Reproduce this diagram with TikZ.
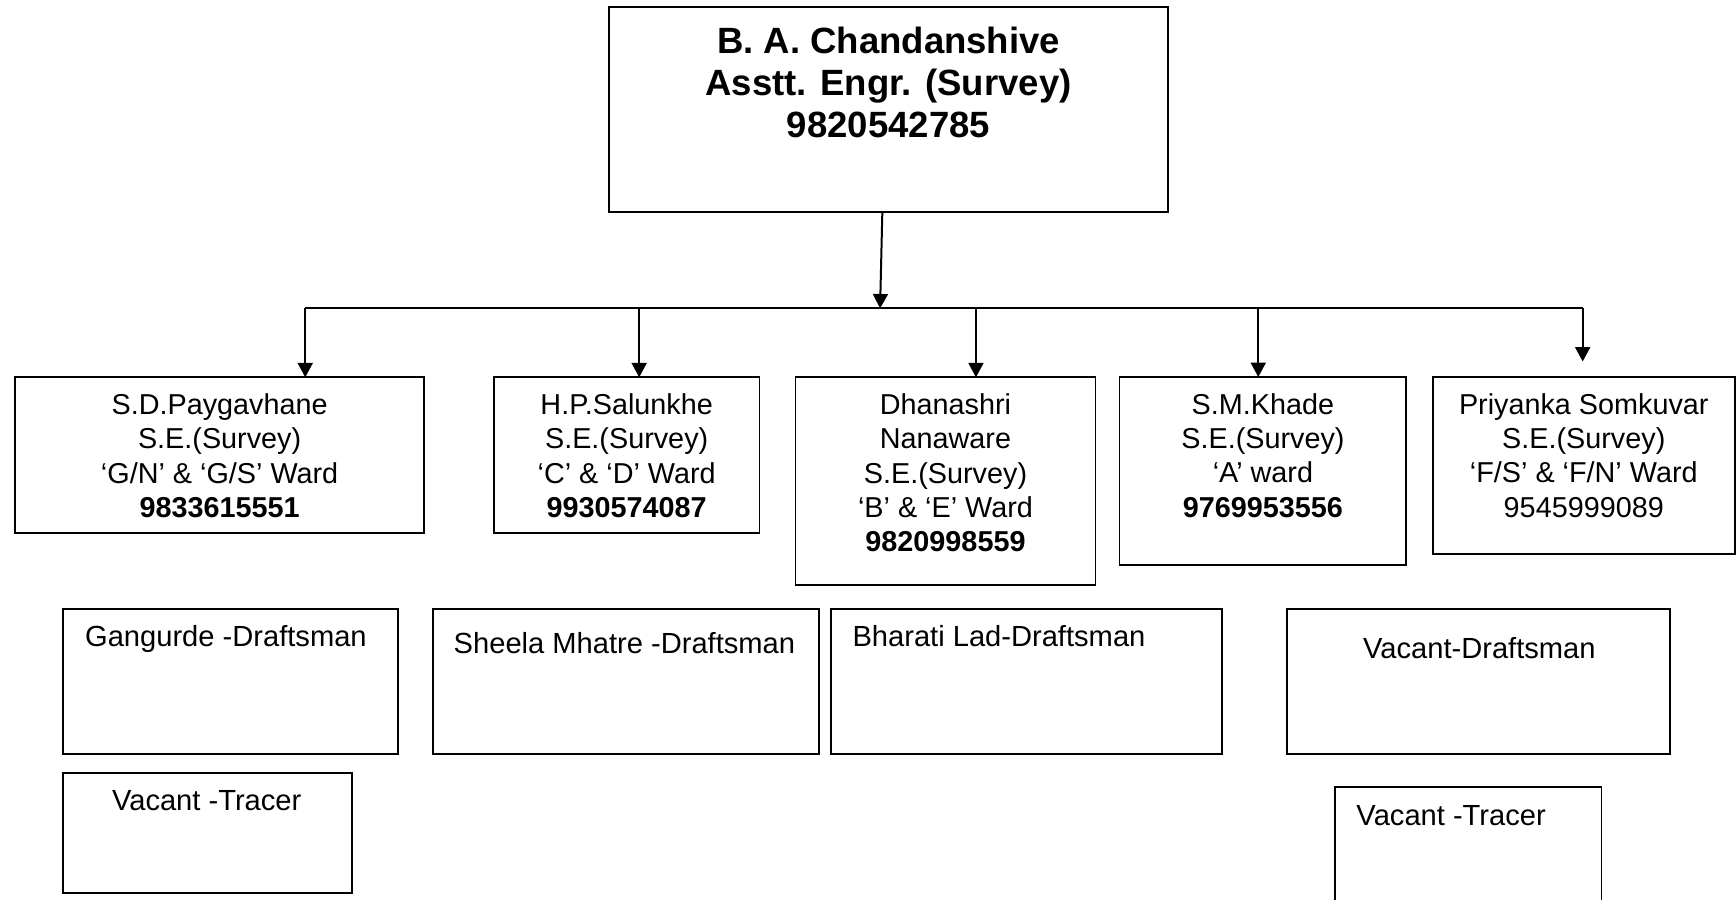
\documentclass[tikz,border=0pt]{standalone}
\usepackage{fontspec}
\setmainfont{Liberation Sans}
\usetikzlibrary{arrows.meta}
\tikzset{
  box/.style={draw, line width=1.7pt, rectangle, anchor=north west, inner sep=0pt, outer sep=0pt},
  topbox/.style={box, line width=2pt},
  conn/.style={line width=1.8pt, -{Triangle[length=13pt,width=13.5pt]}},
  barline/.style={line width=1.8pt},
  headtxt/.style={anchor=base, inner sep=0pt, font=\fontsize{33}{38}\selectfont\bfseries},
  midtxt/.style={anchor=base, inner sep=0pt, font=\fontsize{26}{31}\selectfont},
  lowtxt/.style={anchor=base west, inner sep=0pt, font=\fontsize{26.3}{31}\selectfont}
}
\newcommand{\lines}[1]{\begin{tabular}[t]{@{}c@{}}#1\end{tabular}}
\begin{document}
\begin{tikzpicture}[x=1pt,y=-1pt]
\useasboundingbox (0,0) rectangle (1568,812);
% top box
\node[topbox, minimum width=504.5pt, minimum height=184.6pt] (top) at (550.3,6.6) {};
\node[headtxt] (toptxt) at ([yshift=-42pt]top.north) {\lines{B. A. Chandanshive\\Asstt. Engr. (Survey)\\9820542785}};
% level 2 boxes
\node[box, minimum width=369.9pt, minimum height=140.9pt] (p1) at (13.4,340.8) {};
\node[box, minimum width=240pt, minimum height=140.9pt] (p2) at (446,340.8) {};
\node[box, minimum width=271pt, minimum height=187.6pt] (p3) at (718.5,340.8) {};
\node[box, minimum width=259pt, minimum height=170.1pt] (p4) at (1011.2,340.5) {};
\node[box, minimum width=273pt, minimum height=159.9pt] (p5) at (1294,340.5) {};
\node[midtxt] (p1t) at ([yshift=-33.5pt]p1.north) {\lines{S.D.Paygavhane\\S.E.(Survey)\\‘G/N’ \& ‘G/S’ Ward\\\textbf{9833615551}}};
\node[midtxt] (p2t) at ([yshift=-33.5pt]p2.north) {\lines{H.P.Salunkhe\\S.E.(Survey)\\‘C’ \& ‘D’ Ward\\\textbf{9930574087}}};
\node[midtxt] (p3t) at ([yshift=-33.5pt]p3.north) {\lines{Dhanashri\\Nanaware\\S.E.(Survey)\\‘B’ \& ‘E’ Ward\\\textbf{9820998559}}};
\node[midtxt] (p4t) at ([yshift=-33.5pt]p4.north) {\lines{S.M.Khade\\S.E.(Survey)\\‘A’ ward\\\textbf{9769953556}}};
\node[midtxt] (p5t) at ([yshift=-33.5pt]p5.north) {\lines{Priyanka Somkuvar\\S.E.(Survey)\\‘F/S’ \& ‘F/N’ Ward\\9545999089}};
% connectors
\coordinate (bm) at (794.9,278.5);
\coordinate (b1) at (275.7,278.5);
\coordinate (b2) at (577.3,278.5);
\coordinate (b3) at (881.5,278.5);
\coordinate (b4) at (1136.5,278.5);
\coordinate (b5) at (1429.5,278.5);
\draw[barline] (b1) -- (b5);
\draw[conn] ([xshift=-5.6pt]top.south) -- (bm);
\draw[conn] (b1) -- (b1 |- p1.north);
\draw[conn] (b2) -- (b2 |- p2.north);
\draw[conn] (b3) -- (b3 |- p3.north);
\draw[conn] (b4) -- (b4 |- p4.north);
\draw[conn] (b5) -- ([yshift=14pt]b5 |- p5.north);
% bottom boxes
\node[box, minimum width=302.8pt, minimum height=131.4pt] (d1) at (57,550) {};
\node[box, minimum width=348.8pt, minimum height=131.4pt] (d2) at (391,550) {};
\node[box, minimum width=353.4pt, minimum height=131.4pt] (d3) at (750.2,550) {};
\node[box, minimum width=345.7pt, minimum height=131.4pt] (d4) at (1162.8,550) {};
\node[box, minimum width=260.8pt, minimum height=108.3pt] (t1) at (57,698) {};
\node[box, minimum width=240.5pt, minimum height=115pt] (t2) at (1206,711) {};
\node[lowtxt] (d1t) at ([xshift=19.7pt,yshift=-34pt]d1.north west) {Gangurde -Draftsman};
\node[lowtxt] (d2t) at ([xshift=18.6pt,yshift=-40pt]d2.north west) {Sheela Mhatre -Draftsman};
\node[lowtxt] (d3t) at ([xshift=19.6pt,yshift=-34pt]d3.north west) {Bharati Lad-Draftsman};
\node[lowtxt] (d4t) at ([xshift=68.2pt,yshift=-44.6pt]d4.north west) {Vacant-Draftsman};
\node[lowtxt] (t1t) at ([xshift=44pt,yshift=-33.6pt]t1.north west) {Vacant -Tracer};
\node[lowtxt] (t2t) at ([xshift=19pt,yshift=-34.2pt]t2.north west) {Vacant -Tracer};
\end{tikzpicture}
\end{document}
